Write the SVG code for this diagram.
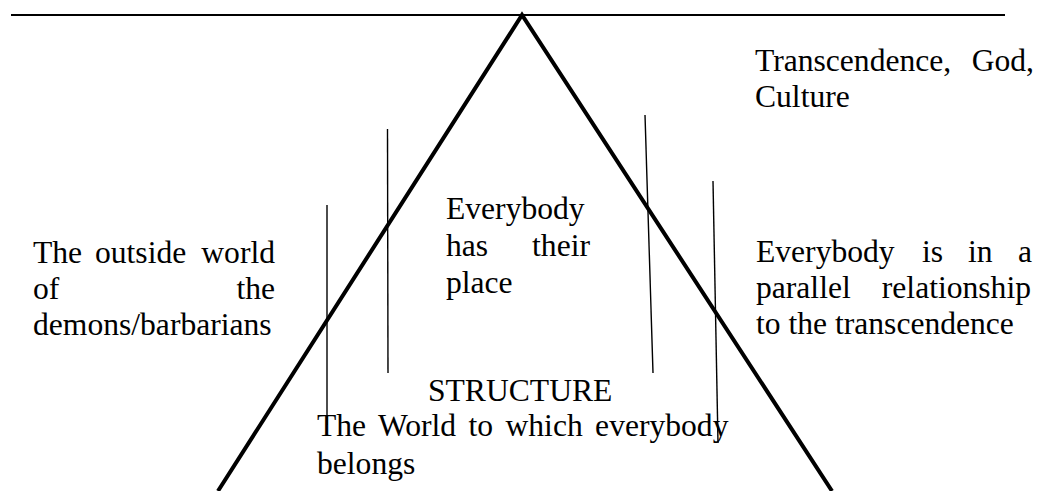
<svg xmlns="http://www.w3.org/2000/svg" width="1037" height="491" viewBox="0 0 1037 491">
<style>
text{font-family:"Liberation Serif","Times New Roman",serif;font-size:31.6px;fill:#000}
.e{text-anchor:end}
.thick{stroke:#000;stroke-width:4;fill:none}
.top{stroke:#000;stroke-width:2;fill:none}
.thin{stroke:#000;stroke-width:1.4;fill:none}
</style>
<rect width="1037" height="491" fill="#fff"/>
<g id="connectors">
<line class="top" x1="11" y1="15" x2="1005" y2="15"/>
<polyline class="thick" points="218,491 522,15 832,491"/>
<line class="thin" x1="327" y1="205" x2="327" y2="425"/>
<line class="thin" x1="387.5" y1="129" x2="388" y2="373"/>
<line class="thin" x1="645" y1="115" x2="653" y2="373"/>
<line class="thin" x1="713" y1="181" x2="718" y2="443"/>
</g>
<g id="transcendence">
<text x="755" y="71">Transcendence,</text>
<text class="e" x="1034" y="71">God,</text>
<text x="755" y="107">Culture</text>
</g>
<g id="outside-world">
<text x="33" y="263">The</text>
<text x="95" y="263">outside</text>
<text class="e" x="275" y="263">world</text>
<text x="33" y="299">of</text>
<text class="e" x="275" y="299">the</text>
<text x="33" y="335">demons/barbarians</text>
</g>
<g id="place">
<text x="446" y="219">Everybody</text>
<text x="446" y="256">has</text>
<text class="e" x="590" y="256">their</text>
<text x="446" y="293">place</text>
</g>
<g id="parallel">
<text x="756" y="262">Everybody</text>
<text x="922" y="262">is</text>
<text x="968" y="262">in</text>
<text class="e" x="1032" y="262">a</text>
<text x="756" y="298">parallel</text>
<text class="e" x="1031" y="298">relationship</text>
<text x="756" y="334">to the transcendence</text>
</g>
<g id="structure">
<text x="428" y="401">STRUCTURE</text>
<text x="317" y="436" word-spacing="4.5">The World to which everybody</text>
<text x="317" y="474">belongs</text>
</g>
</svg>
